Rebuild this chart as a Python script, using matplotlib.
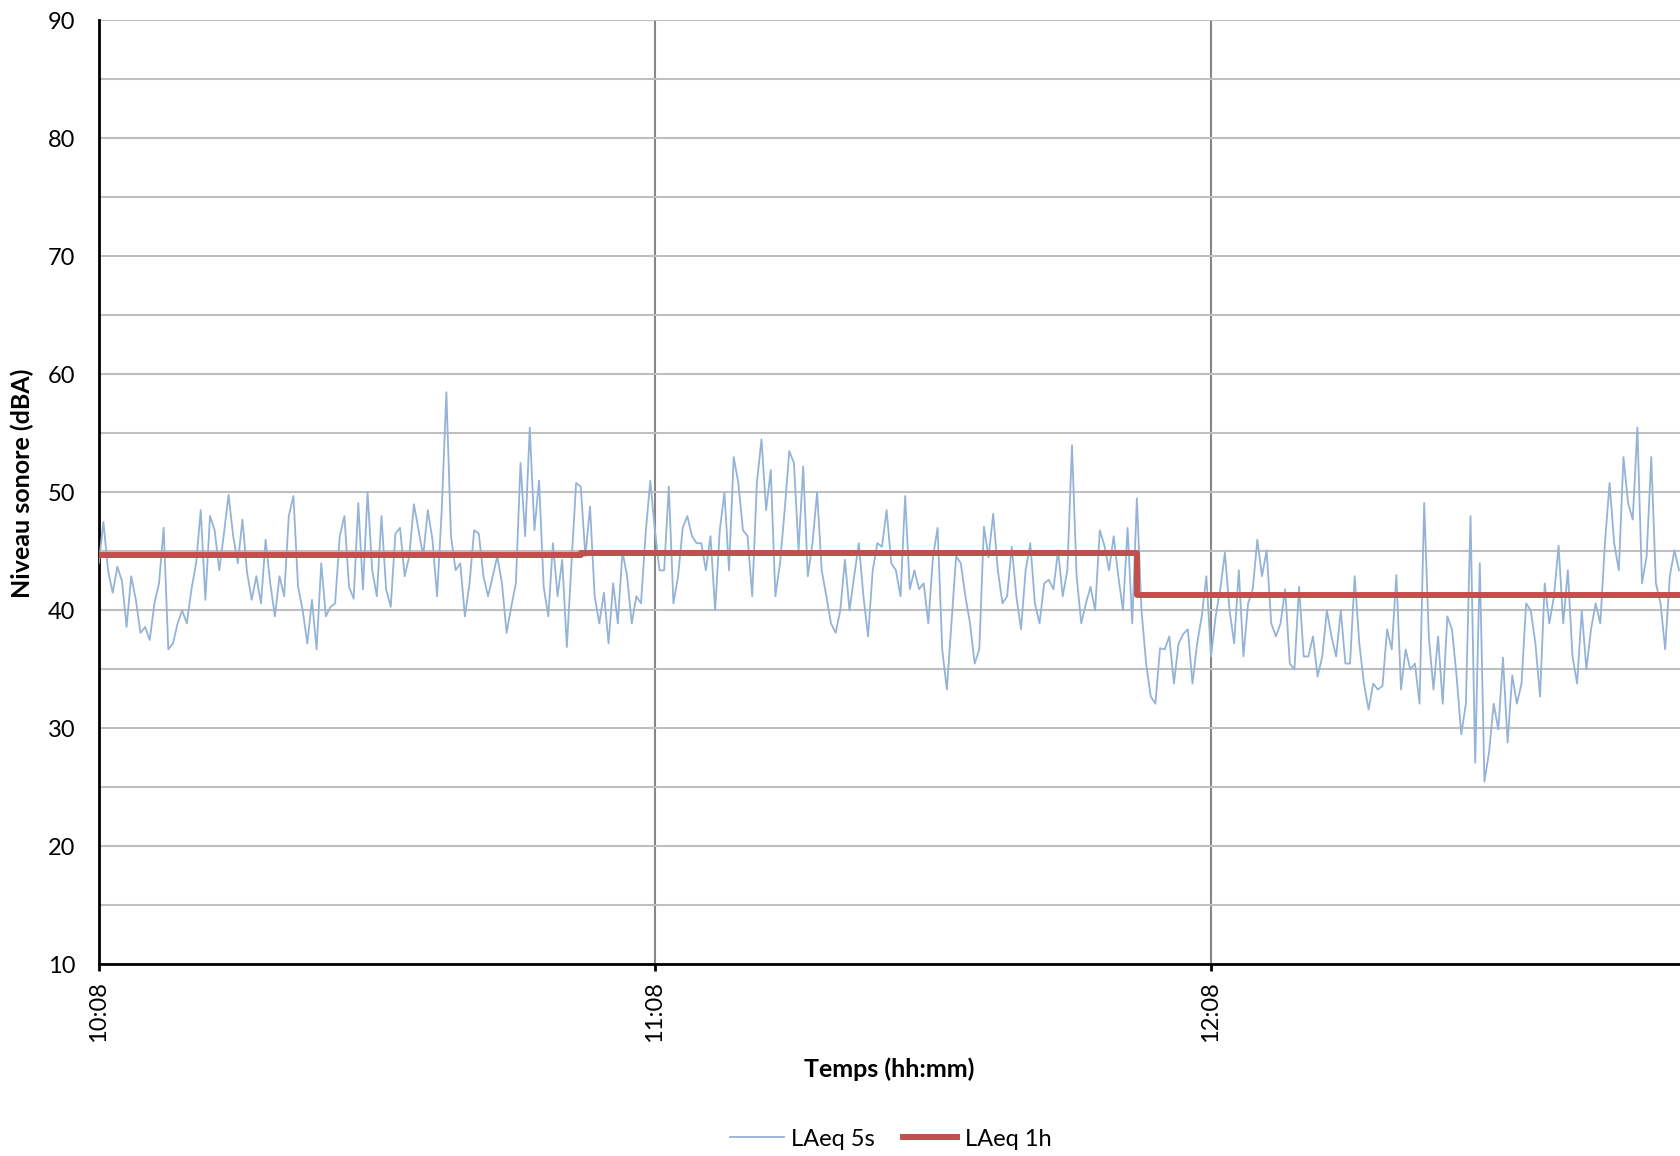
import matplotlib
matplotlib.use("Agg")
import matplotlib.pyplot as plt
import matplotlib.dates as mdates
import numpy as np
import pandas as pd

plt.rcParams['font.family'] = ['Lato', 'DejaVu Sans']

laeq_5s = [
    44, 47.5, 43.4, 41.5, 43.7, 42.5, 38.6, 42.9, 40.9, 38.1, 38.6, 37.5, 40.6, 42.3, 47,
    36.7, 37.2, 38.9, 40, 38.9, 41.8, 44, 48.5, 40.9, 48, 46.8, 43.4, 46.5, 49.8, 46.3,
    44, 47.7, 43.2, 40.9, 42.9, 40.6, 46, 42.3, 39.5, 42.9, 41.2, 48, 49.7,
    42, 40, 37.2, 40.9, 36.7, 44, 39.5, 40.3, 40.6, 46.3, 48, 42, 41, 49.1, 41.8,
    50, 43.4, 41.2, 48, 41.8, 40.3, 46.5, 47, 42.9, 44.6, 49, 46.8, 44.6, 48.5, 46,
    41.2, 48.5, 58.5, 46.3, 43.4, 44, 39.5, 42.3, 46.8, 46.5, 42.9, 41.2,
    42.9, 44.6, 42.3, 38.1, 40.3, 42.3, 52.5, 46.3, 55.5, 46.8, 51, 42, 39.5, 45.7,
    41.2, 44.3, 36.9, 44, 50.8, 50.5, 44.6, 48.8, 41.2, 38.9, 41.5, 37.2, 42.3, 38.9,
    45, 42.9, 38.9, 41.2, 40.6, 46.5, 51, 46.8, 43.4, 43.4, 50.5, 40.6, 42.9, 47,
    48, 46.3, 45.7, 45.7, 43.4, 46.3, 40, 46.8, 50, 43.4, 53, 50.8, 46.8, 46.3, 41.2,
    50.8, 54.5, 48.5, 51.9, 41.2, 44, 48.5, 53.5, 52.5, 45.1, 52.2, 42.9, 45.7, 50,
    43.4, 41.2, 38.9, 38.1, 40, 44.3, 40, 42.9, 45.7, 41.2, 37.8, 43.4, 45.7,
    45.4, 48.5, 44, 43.4, 41.2, 49.7, 41.8, 43.4, 41.8, 42.3, 38.9, 44.5, 47, 36.7,
    33.3, 38.9, 44.6, 44, 41.2, 38.9, 35.5, 36.7, 47.1, 44.5, 48.2, 43.4, 40.6, 41.2,
    45.4, 41.2, 38.4, 43.4, 45.7, 40.6, 38.9, 42.3, 42.6, 41.8, 45.1, 41.2, 43.4, 54,
    42.9, 38.9, 40.6, 42, 40, 46.8, 45.5, 43.4, 46.3, 42.9, 40, 47, 38.9, 49.5, 40,
    35.5, 32.7, 32.1, 36.8, 36.7, 37.8, 33.8, 37.2, 38, 38.4, 33.8, 37.2, 39.5, 42.9,
    36.1, 39.5, 41.8, 44.9, 40, 37.2, 43.4, 36.1, 40.6, 41.8, 46, 42.9, 45.1,
    38.9, 37.8, 38.9, 41.8, 35.5, 35, 42, 36.1, 36.1, 37.8, 34.4, 36.1, 40, 37.8,
    36.1, 40, 35.5, 35.5, 42.9, 37.2, 33.8, 31.6, 33.8, 33.3, 33.6, 38.4, 36.7, 43,
    33.3, 36.7, 35, 35.5, 32.1, 49.1, 37.8, 33.3, 37.8, 32.1, 39.5, 38.4, 34.4, 29.5,
    32.1, 48, 27.1, 44, 25.5, 28, 32.1, 29.9, 36, 28.8, 34.5, 32.1, 33.8, 40.6, 40,
    37.2, 32.7, 42.3, 38.9, 41.2, 45.5, 38.9, 43.4, 36.1, 33.8, 40, 35, 38.4, 40.6,
    38.9, 45.7, 50.8, 45.7, 43.4, 53, 49.1, 47.7, 55.5, 42.3, 44.6, 53, 42.3, 40.6,
    36.7, 42.9, 45.1, 43.4,
]

# LAeq 1h par heure d'horloge
heures_1h = ["10:08", "11:00", "12:00"]
laeq_1h = [44.7, 44.9, 41.3]

debut = pd.Timestamp("2015-01-01 10:08")
t5s = debut + pd.to_timedelta(np.arange(len(laeq_5s)) * 30, unit="s")
fin = debut + pd.Timedelta(minutes=170.6)

t1h = [pd.Timestamp("2015-01-01 " + h) for h in heures_1h] + [fin]
v1h = laeq_1h + [laeq_1h[-1]]

fig = plt.figure(figsize=(16.8, 11.56), dpi=100)
ax = fig.add_axes([0.0588, 0.1657, 0.9412, 0.8166])

ax.plot(t5s, laeq_5s, color='#95b3d7', lw=1.3, label='LAeq 5s', zorder=3)
ax.plot(t1h, v1h, color='#c0504d', lw=4.3, drawstyle='steps-post',
        label='LAeq 1h', zorder=4)

ax.set_xlim(debut, fin)
ax.set_ylim(10, 90)
ax.set_yticks(np.arange(10, 91, 10))
ax.set_yticks(np.arange(15, 90, 10), minor=True)
ax.set_xticks([debut + pd.Timedelta(hours=h) for h in range(3)])
ax.xaxis.set_major_formatter(mdates.DateFormatter('%H:%M'))

ax.grid(axis='y', which='both', color='#bfbfbf', lw=1.5, zorder=0)
ax.grid(axis='x', which='major', color='#868686', lw=1.5, zorder=0)
ax.set_axisbelow(True)

for s in ['top', 'right']:
    ax.spines[s].set_visible(False)
for s in ['left', 'bottom']:
    ax.spines[s].set_linewidth(2)
    ax.spines[s].set_color('black')

ax.tick_params(axis='y', which='both', length=0, pad=17, labelsize=17)
ax.tick_params(axis='x', length=5, width=2, pad=7, labelsize=17, labelrotation=90)

ax.set_ylabel('Niveau sonore (dBA)', fontsize=18, fontweight='bold')
ax.yaxis.set_label_coords(-0.0407, 0.51)
ax.set_xlabel('Temps (hh:mm)', fontsize=18, fontweight='bold', labelpad=11)

h, l = ax.get_legend_handles_labels()
fig.legend(h, l, loc='center', bbox_to_anchor=(0.53, 0.0147), ncol=2,
           frameon=False, fontsize=17, handlelength=2.3, handletextpad=0.3,
           columnspacing=1.2)

fig.savefig('out.png', dpi=100)
